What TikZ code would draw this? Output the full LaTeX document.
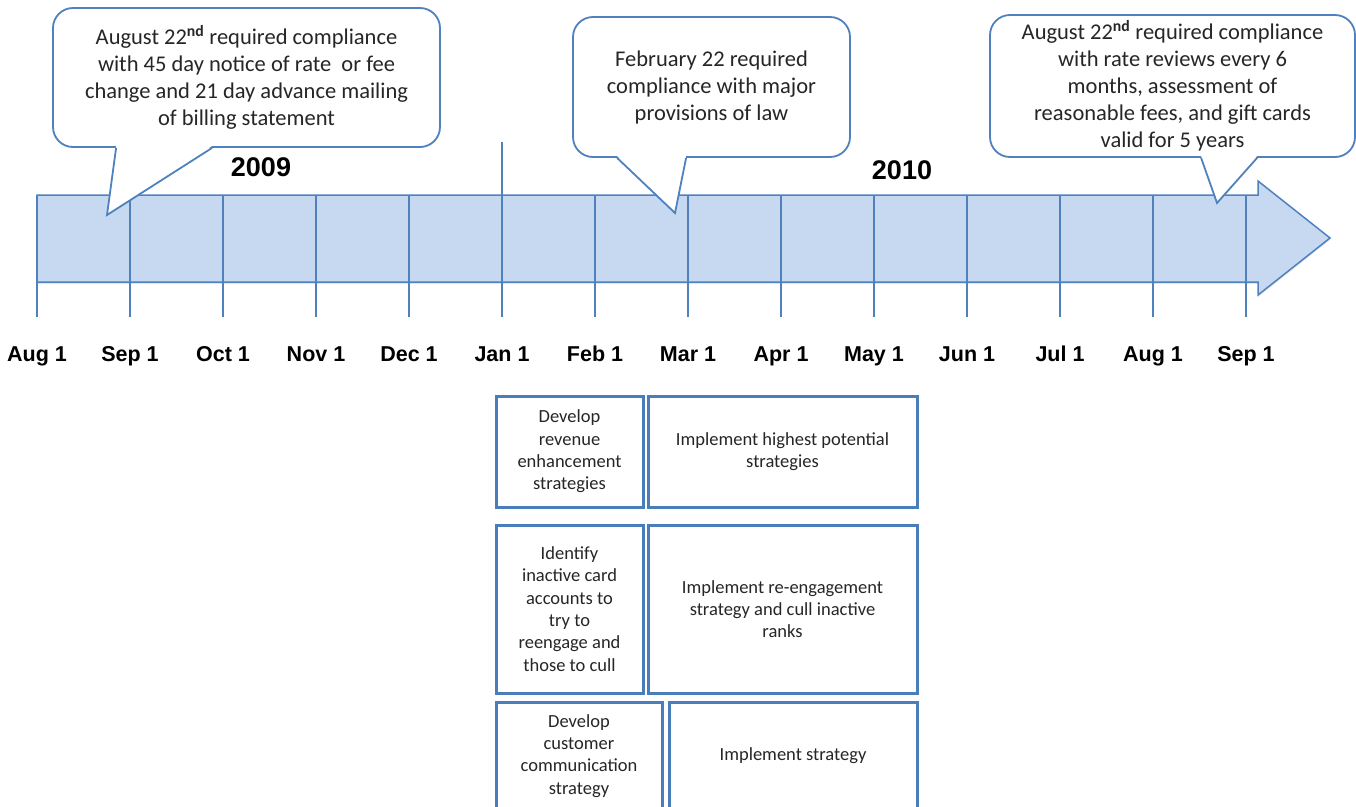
\documentclass[tikz,border=0pt]{standalone}
\usepackage{fontspec}
\setmainfont{Carlito}
\newfontfamily\labelfont{Liberation Sans}
\usepackage{tikz}
\usetikzlibrary{positioning, shadows}
\definecolor{timefill}{HTML}{C6D9F1}
\definecolor{timeline}{HTML}{4F81BD}
\definecolor{boxline}{HTML}{4A7EBB}
\tikzstyle{bubble} = [rectangle, draw=timeline, line width=1.8pt, fill=white, rounded corners=20pt,
    align=center, text=black!85, font=\fontsize{22.5}{27}\selectfont]
\tikzstyle{tail} = [draw=timeline, line width=1.8pt, line join=miter]
\tikzstyle{tick} = [draw=timeline, line width=1.3pt]
\tikzstyle{month} = [anchor=base, font=\labelfont\bfseries\fontsize{21.5}{24}\selectfont]
\tikzstyle{year} = [font=\labelfont\bfseries\fontsize{27}{30}\selectfont]
\tikzstyle{task} = [rectangle, draw=boxline, line width=3pt, fill=white, align=center, outer sep=0pt,
    text=black!85, font=\fontsize{18.5}{22.3}\selectfont, minimum height=111pt]

\begin{document}
\begin{tikzpicture}[x=1pt, y=-1pt, node distance = 5pt]
      \useasboundingbox (0,0) rectangle (1356,806);
      \clip (0,0) rectangle (1356,806);
      % Timeline
      \filldraw [fill=timefill, draw=timeline, line width=1.5pt,
          drop shadow={opacity=0.2, shadow xshift=0pt, shadow yshift=-2pt}]
          (37,195) -- (1258,195) -- (1258,181) -- (1330,238) -- (1258,295) -- (1258,282) -- (37,282) -- cycle;
      \foreach \m [count=\i from 0] in {Aug 1, Sep 1, Oct 1, Nov 1, Dec 1, Jan 1, Feb 1, Mar 1,
          Apr 1, May 1, Jun 1, Jul 1, Aug 1, Sep 1} {
        \pgfmathsetmacro\mx{37+93*\i}
        \coordinate (top\i) at (\mx,195);
        \coordinate (end\i) at (\mx,317);
        \node [month] (m\i) at (\mx,361) {\m};
        \path [tick] (top\i) -- (end\i);
      }
      \coordinate (divide) at ([yshift=53pt]top5);
      \path [tick] (divide) -- (top5);
      \node [year] (y2009) at (261,167) {2009};
      \node [year] (y2010) at (902,170) {2010};
      % Callouts
      \node [bubble, minimum width=387pt, minimum height=139pt] (note1) at (246.5,77.5)
          {August 22\textsuperscript{\bfseries nd} required compliance\\ with 45 day notice of rate~ or fee\\
           change and 21 day advance mailing\\ of billing statement};
      \node [bubble, minimum width=277pt, minimum height=140pt] (note2) at (711.5,87)
          {February 22 required\\ compliance with major\\ provisions of law};
      \node [bubble, minimum width=365pt, minimum height=142pt] (note3) at (1172.5,86)
          {August 22\textsuperscript{\bfseries nd} required compliance\\ with rate reviews every 6\\
           months, assessment of\\ reasonable fees, and gift cards\\ valid for 5 years};
      \coordinate (tip1) at (107,215);
      \coordinate (tip2) at (675,213);
      \coordinate (tip3) at (1217,203);
      \fill [white] ([xshift=64pt, yshift=2pt]note1.south west) -- (tip1) -- ([xshift=160pt, yshift=2pt]note1.south west) -- cycle;
      \path [tail] ([xshift=64pt]note1.south west) -- (tip1) -- ([xshift=160pt]note1.south west);
      \fill [white] ([xshift=45pt, yshift=2pt]note2.south west) -- (tip2) -- ([xshift=114pt, yshift=2pt]note2.south west) -- cycle;
      \path [tail] ([xshift=45pt]note2.south west) -- (tip2) -- ([xshift=114pt]note2.south west);
      \fill [white] ([xshift=212pt, yshift=2pt]note3.south west) -- (tip3) -- ([xshift=268pt, yshift=2pt]note3.south west) -- cycle;
      \path [tail] ([xshift=212pt]note3.south west) -- (tip3) -- ([xshift=268pt]note3.south west);
      % Tasks
      \node [task, minimum width=147pt, anchor=north west] (devrev) at (496,396)
          {Develop\\ revenue\\ enhancement\\ strategies};
      \node [task, minimum width=269pt, right=of devrev] (imprev) {Implement highest potential\\ strategies};
      \node [task, minimum width=147pt, minimum height=168pt, below=18pt of devrev.south west, anchor=north west] (idinact)
          {Identify\\ inactive card\\ accounts to\\ try to\\ reengage and\\ those to cull};
      \node [task, minimum width=269pt, minimum height=168pt, right=of idinact] (impreeng)
          {Implement re-engagement\\ strategy and cull inactive\\ ranks};
      \node [task, minimum width=166pt, minimum height=108pt, below=9pt of idinact.south west, anchor=north west] (devcomm)
          {Develop\\ customer\\ communication\\ strategy};
      \node [task, minimum width=248pt, minimum height=108pt, right=7pt of devcomm] (impstrat) {Implement strategy};
    \end{tikzpicture}
\end{document}
